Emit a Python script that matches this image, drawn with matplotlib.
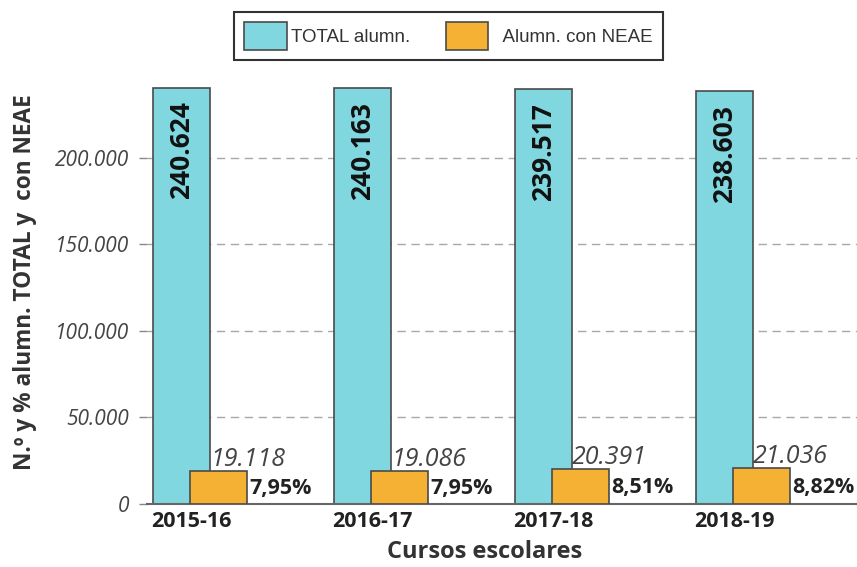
import numpy as np
import matplotlib
matplotlib.use("Agg")
import matplotlib.pyplot as plt
from matplotlib.patches import Patch

# =========================
# DATA
# =========================
cursos = ["2015-16", "2016-17", "2017-18", "2018-19"]
total_alumn = [240624, 240163, 239517, 238603]
neae_alumn = [19118, 19086, 20391, 21036]
total_labels = ["240.624", "240.163", "239.517", "238.603"]
neae_labels = ["19.118", "19.086", "20.391", "21.036"]
pct_labels = ["7,95%", "7,95%", "8,51%", "8,82%"]
yticks = [0, 50000, 100000, 150000, 200000]
ytick_labels = ["0", "50.000", "100.000", "150.000", "200.000"]

TEAL = "#80d7df"
ORANGE = "#f5b133"
EDGE = "#4a4a4a"

plt.rcParams["font.family"] = ["Open Sans", "DejaVu Sans"]

fig = plt.figure(figsize=(8.57, 5.67), dpi=100)
ax = fig.add_axes([147 / 857, 63 / 567, 1 - 147 / 857, (504 - 80) / 567])

x = np.arange(len(cursos))
w = 0.315
off = 0.102

ax.set_axisbelow(True)
ax.yaxis.grid(True, linestyle=(0, (6, 4)), color="#a8a8a8", linewidth=1)

ax.bar(x - off, total_alumn, width=w, color=TEAL, edgecolor=EDGE, linewidth=1.2, zorder=2)
ax.bar(x + off, neae_alumn, width=w, color=ORANGE, edgecolor=EDGE, linewidth=1.2, zorder=3)

for i in range(len(cursos)):
    ax.annotate(total_labels[i], (x[i] - off, total_alumn[i]), xytext=(0, -10),
                textcoords="offset points", rotation=90, ha="center", va="top",
                fontsize=19, fontweight="bold", color="#111111", zorder=4)
    ax.annotate(neae_labels[i], (x[i] - off + w / 2, neae_alumn[i]), xytext=(0, -1),
                textcoords="offset points", ha="left", va="bottom",
                fontsize=18, fontstyle="italic", color="#444444", zorder=4)
    ax.annotate(pct_labels[i], (x[i] + off + w / 2, neae_alumn[i] / 2), xytext=(2, -1),
                textcoords="offset points", ha="left", va="center",
                fontsize=15.5, fontweight="bold", color="#222222", zorder=4)

ax.set_xlim(-0.293, 3.63)
ax.set_ylim(0, 245000)

ax.set_yticks(yticks)
ax.set_yticklabels(ytick_labels, fontsize=15, fontstyle="italic", color="#444444")
ax.tick_params(axis="y", length=6, width=1, color="#888888", pad=7)

ax.set_xticks(x - 0.05)
ax.set_xticklabels(cursos, fontsize=15.5, fontweight="bold", color="#222222")
ax.tick_params(axis="x", length=0, pad=5)

for s in ["left", "right", "top"]:
    ax.spines[s].set_visible(False)
ax.spines["bottom"].set_color("#666666")
ax.spines["bottom"].set_linewidth(1.5)

ax.set_ylabel("N.º y % alumn. TOTAL y  con NEAE", fontsize=16.3, fontweight="bold",
              color="#333333")
ax.yaxis.set_label_coords((37 - 147) / 710, (504 - 282) / 424)
ax.set_xlabel("Cursos escolares", fontsize=17, fontweight="bold", color="#333333")
ax.xaxis.set_label_coords((484.5 - 147) / 710, (504 - 540) / 424)

handles = [Patch(facecolor=TEAL, edgecolor=EDGE, linewidth=1.2),
           Patch(facecolor=ORANGE, edgecolor=EDGE, linewidth=1.2)]
leg = fig.legend(handles, ["TOTAL alumn.", "  Alumn. con NEAE"], ncol=2,
                 loc="center", bbox_to_anchor=(448.5 / 857, 1 - 36 / 567),
                 prop={"family": "Liberation Sans", "size": 13.5},
                 fancybox=False, framealpha=1, edgecolor="#333333",
                 handlelength=2.25, handleheight=1.85, handletextpad=0.25,
                 columnspacing=1.9, borderpad=0.55)
leg.get_frame().set_linewidth(1.5)
for t in leg.get_texts():
    t.set_color("#333333")

fig.savefig("out.png", dpi=100)
